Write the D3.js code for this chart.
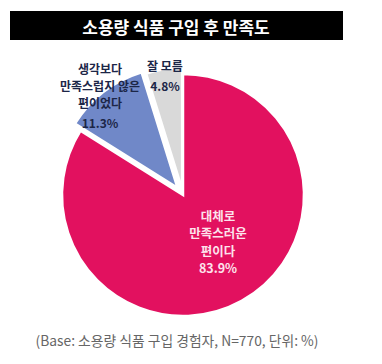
<!DOCTYPE html>
<html><head><meta charset="utf-8">
<script src="https://cdn.jsdelivr.net/npm/d3@7"></script>
<style>body{margin:0;background:#fff;} svg{display:block;font-family:"Noto Sans CJK KR","Noto Sans",sans-serif;}</style>
</head><body>
<svg id="c" width="382" height="364"></svg>
<script>
const categories = ["대체로 만족스러운 편이다", "생각보다 만족스럽지 않은 편이었다", "잘 모름"];
const values = [83.9, 11.3, 4.8];
const labelLines = [["대체로", "만족스러운", "편이다"], ["생각보다", "만족스럽지 않은", "편이었다"], ["잘 모름"]];
const colors = ["#e2115f", "#7088c8", "#d9d9d9"];
const title = "소용량 식품 구입 후 만족도";
const footnote = "(Base: 소용량 식품 구입 경험자, N=770, 단위: %)";

const svg = d3.select("#c");
svg.append("rect").attr("x", 10).attr("y", 11).attr("width", 333).attr("height", 29).attr("fill", "#000");
svg.append("text").attr("x", 176).attr("y", 26).attr("text-anchor", "middle").attr("dominant-baseline", "central")
  .attr("fill", "#fff").attr("font-size", 17).attr("font-weight", "bold").text(title);

const cx = 183, cy = 195, r = 121;
const pie = d3.pie().sort(null).value(d => d)(values);
const arc = d3.arc().innerRadius(0).outerRadius(r);
const offsets = [0, 9, 6];
const g = svg.append("g").attr("transform", `translate(${cx},${cy})`);
g.selectAll("path").data(pie).join("path")
  .attr("d", arc)
  .attr("fill", (d, i) => colors[i])
  .attr("stroke", "#fff").attr("stroke-width", 2.5).attr("stroke-linejoin", "miter")
  .attr("transform", (d, i) => {
    const a = (d.startAngle + d.endAngle) / 2;
    return `translate(${Math.sin(a) * offsets[i]},${-Math.cos(a) * offsets[i]})`;
  });

// labels
const labelPos = [
  {x: 218, y: 215, dy: 17.5, color: "#fde3ec", size: 12.5},
  {x: 100, y: 68, dy: 17, color: "#1c2647", size: 12},
  {x: 165, y: 65, dy: 20, color: "#1c2647", size: 12}
];
pie.forEach((d, i) => {
  const p = labelPos[i];
  const t = svg.append("text").attr("text-anchor", "middle").attr("font-weight", "bold")
    .attr("font-size", p.size).attr("fill", p.color);
  const lines = labelLines[i].concat([d3.format(".1f")(values[i]) + "%"]);
  lines.forEach((ln, j) => {
    let yy = p.y + j * p.dy;
    if (i === 1 && j === lines.length - 1) yy += 3;
    t.append("tspan").attr("x", p.x).attr("y", yy).attr("dominant-baseline", "central").text(ln);
  });
});

svg.append("text").attr("x", 177).attr("y", 340).attr("text-anchor", "middle").attr("dominant-baseline", "central")
  .attr("fill", "#666").attr("font-size", 13.8).text(footnote);
</script>
</body></html>
